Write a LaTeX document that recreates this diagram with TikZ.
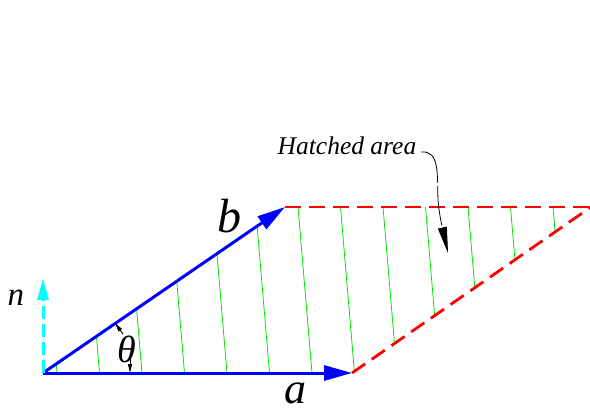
\documentclass[tikz,border=0pt]{standalone}
\usepackage{fontspec}
\setmainfont{Liberation Serif}
\usetikzlibrary{arrows.meta}
\definecolor{vblue}{RGB}{0,0,255}
\definecolor{vred}{RGB}{255,0,0}
\definecolor{vgreen}{RGB}{0,230,0}
\definecolor{vcyan}{RGB}{0,255,255}
\tikzset{
  vec/.style={draw=vblue, line width=3pt, -{Triangle[length=28pt,width=15pt]}},
  edge/.style={draw=vred, line width=2.8pt, dash pattern=on 16pt off 8pt},
  hatch/.style={draw=vgreen, line width=0.8pt},
  normal/.style={draw=vcyan, line width=3pt, dash pattern=on 13pt off 5pt, -{Triangle[length=22pt,width=11pt]}},
  small/.style={draw=black, line width=0.9pt, -{Triangle[length=9pt,width=4pt]}},
  lead/.style={draw=black, line width=0.8pt, dash pattern=on 40pt off 3pt, -{Triangle[length=26pt,width=9pt]}},
  lbl/.style={inner sep=0pt, font=\itshape}
}
\begin{document}
\begin{tikzpicture}[x=1pt,y=-1pt]
\useasboundingbox (0,0) rectangle (590,412);
\coordinate (O) at (43,373);
\coordinate (A) at (352,373);
\coordinate (B) at (285,207);
\coordinate (C) at (591,207);
% hatching
\begin{scope}
  \clip (O) -- (A) -- (C) -- (B) -- cycle;
  \foreach \k in {0,...,12} {
    \draw[hatch] ({57+42.5*\k},373) -- ({43+42.5*\k},207);
  }
\end{scope}
% red edges
\draw[edge] (B) -- (C);
\draw[edge] (A) -- (C);
% vectors
\draw[vec] (O) -- (A);
\draw[vec] (O) -- (B);
\coordinate (Ntip) at (43,278);
\draw[normal] (O) -- (Ntip);
% angle marks
\coordinate (t1s) at (123,334);
\coordinate (t1e) at (115,323);
\coordinate (t2s) at (130,359);
\coordinate (t2e) at (130,373);
\draw[small] (t1s) -- (t1e);
\draw[small] (t2s) -- (t2e);
% labels
\node[lbl, font=\fontsize{33}{36}\selectfont\itshape] (nl) at (16,298) {n};
\node[lbl, font=\fontsize{48}{50}\selectfont\itshape] (bl) at (229,216) {b};
\node[lbl, font=\fontsize{44}{46}\selectfont\itshape] (al) at (295,393) {a};
\node[lbl, font=\fontsize{38}{42}\selectfont\itshape] (th) at (127,349) {θ};
\node[lbl, font=\fontsize{25.5}{30}\selectfont\itshape] (ha) at (347,146) {Hatched area};
% leader
\coordinate (lt) at (448,253);
\draw[lead] (421,152) .. controls (440,150) and (437,175) .. (438,200) .. controls (439,215) and (444,235) .. (lt);
\end{tikzpicture}
\end{document}
